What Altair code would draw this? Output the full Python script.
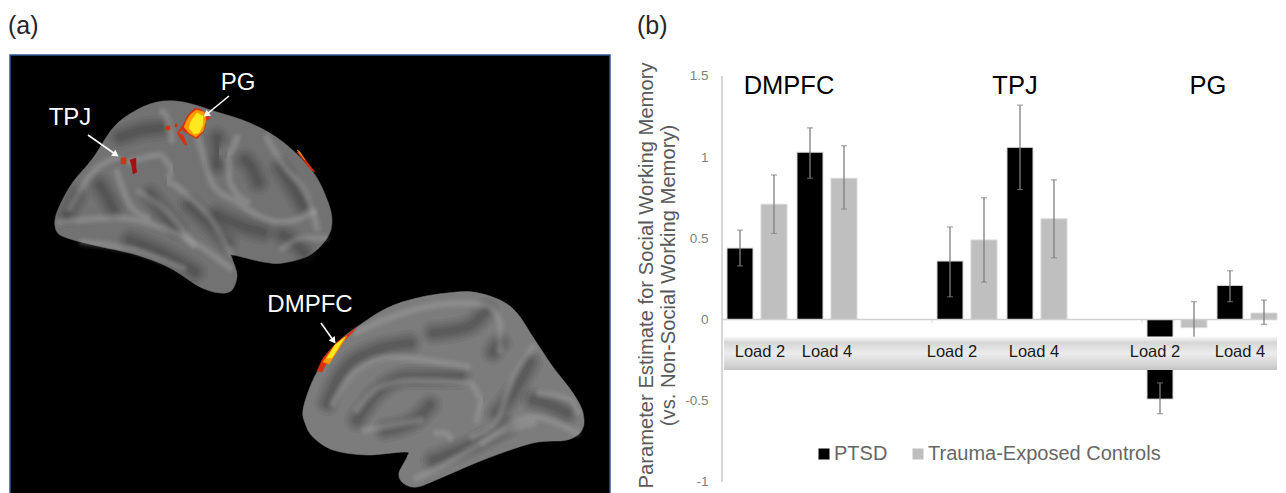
import altair as alt
import pandas as pd

# ---------- bar chart data ----------
slots = ["D2", "D4", "g1", "T2", "T4", "g2", "P2", "P4"]
bar_slots = ["D2", "D2", "D4", "D4", "T2", "T2", "T4", "T4", "P2", "P2", "P4", "P4"]
groups = ["PTSD", "Trauma-Exposed Controls"] * 6
values = [0.44, 0.71, 1.03, 0.87, 0.36, 0.49, 1.06, 0.62, -0.49, -0.05, 0.21, 0.04]
err_low = [0.33, 0.53, 0.87, 0.68, 0.14, 0.23, 0.80, 0.38, -0.58, -0.11, 0.11, -0.03]
err_high = [0.55, 0.89, 1.18, 1.07, 0.57, 0.75, 1.32, 0.86, -0.39, 0.11, 0.30, 0.12]
y_ticks = [-1, -0.5, 0, 0.5, 1, 1.5]
load_labels = ["Load 2", "Load 4", "Load 2", "Load 4", "Load 2", "Load 4"]
load_slots = ["D2", "D4", "T2", "T4", "P2", "P4"]
load_dx = [3, 0, -15, -3, -22, -7]
region_names = ["DMPFC", "TPJ", "PG"]
region_slots = ["D4", "T4", "P4"]
region_dx = [-38, -22, -39]

# ---------- brain panel data (picture coordinates) ----------
brain1 = [(55, 220), (60, 205), (73, 182), (93, 158), (113, 128), (133, 112), (157, 102), (183, 102), (217, 112), (250, 123), (283, 142), (313, 172), (328, 202), (332, 222), (327, 238), (310, 255), (283, 263), (263, 262), (233, 255), (232, 258), (237, 275), (232, 290), (220, 293), (200, 287), (170, 268), (137, 255), (93, 245), (67, 238), (57, 232)]
brain2 = [(303, 410), (310, 387), (320, 367), (337, 343), (357, 327), (387, 308), (417, 298), (447, 293), (473, 292), (500, 300), (517, 313), (533, 337), (553, 367), (573, 393), (583, 413), (582, 430), (567, 440), (533, 443), (483, 460), (443, 477), (417, 487), (403, 483), (399, 473), (407, 457), (405, 452), (367, 455), (333, 450), (313, 437), (305, 423)]

dark_lines = [
    [(245, 160), (253, 170), (258, 182)],
    [(217, 215), (240, 225), (263, 232)],
    [(120, 137), (143, 130), (160, 128)],
    [(100, 185), (107, 197), (113, 208)],
    [(150, 195), (163, 212), (177, 228)],
    [(190, 205), (208, 222), (227, 242)],
    [(283, 235), (297, 245), (304, 252)],
    [(217, 138), (219, 152), (217, 165)],
    [(280, 168), (292, 186), (303, 205)],
    [(77, 195), (72, 205), (67, 215)],
    [(130, 240), (160, 252), (195, 272)],
    [(327, 403), (337, 380), (367, 353), (410, 343)],
    [(433, 333), (467, 327), (487, 310)],
    [(493, 352), (496, 347), (500, 343)],
    [(357, 420), (377, 393), (410, 377), (460, 377)],
    [(530, 363), (513, 393), (497, 413)],
    [(533, 400), (550, 405), (567, 413)],
    [(507, 427), (467, 447), (433, 460)],
    [(385, 430), (415, 420), (430, 405)],
]
light_lines = [
    [(130, 162), (160, 155), (173, 168), (167, 182), (190, 198), (210, 218), (230, 252)],
    [(197, 135), (207, 168), (213, 185), (237, 202), (263, 218), (283, 222), (313, 212)],
    [(237, 138), (227, 155), (230, 182), (247, 202)],
    [(163, 112), (170, 128), (172, 140)],
    [(267, 138), (283, 165), (310, 202), (317, 228)],
    [(283, 248), (303, 238), (325, 238)],
    [(70, 208), (93, 172), (117, 158)],
    [(60, 222), (117, 218), (163, 228), (203, 248), (230, 268)],
    [(117, 172), (130, 205), (147, 218)],
    [(140, 192), (170, 215), (193, 245)],
    [(83, 242), (133, 250), (183, 268)],
    [(333, 403), (357, 370), (393, 357), (443, 363), (467, 367)],
    [(357, 410), (380, 387), (413, 380), (470, 383), (483, 400), (477, 420)],
    [(357, 332), (413, 310), (460, 303), (487, 306), (500, 323), (500, 350)],
    [(473, 437), (497, 420), (513, 377), (533, 347)],
    [(483, 443), (533, 417), (577, 433)],
    [(540, 393), (570, 400), (578, 412)],
    [(417, 478), (440, 467), (500, 433), (533, 423)],
    [(365, 430), (395, 425), (420, 420)],
    [(437, 433), (445, 433), (450, 438)],
]
hot_red = [
    [(195, 108), (202, 110), (210, 118), (205, 122), (206, 126), (203, 132), (197, 139), (190, 135), (182, 130), (178, 133), (183, 135), (187, 145), (185, 145), (180, 138), (177, 133), (183, 125), (188, 115)],
    [(297, 152), (300, 153), (315, 172), (311, 170)],
    [(317, 371), (323, 358), (337, 342), (347, 335), (357, 327), (353, 332), (343, 342), (333, 358), (326, 364), (322, 372)],
    [(121, 158), (126, 158), (126, 164), (121, 164)],
    [(166, 126), (170, 126), (170, 130), (166, 130)],
    [(175, 124), (177, 124), (177, 127), (175, 127)],
]
hot_dark = [
    [(130, 160), (136, 158), (136, 168), (137, 172), (133, 174), (132, 167)],
]
hot_orange = [
    [(196, 110), (204, 112), (206, 120), (203, 131), (196, 137), (189, 133), (184, 127), (187, 120), (190, 115)],
    [(323, 362), (335, 345), (347, 336), (338, 350), (329, 364)],
    [(297, 150), (300, 152), (305, 160)],
]
hot_yellow = [
    [(197, 113), (203, 116), (203, 125), (199, 133), (194, 134), (189, 128), (191, 121), (194, 117)],
    [(327, 358), (335, 345), (345, 337), (338, 348), (332, 358)],
]
panel_x = [10]; panel_x2 = [610]; panel_y = [55]; panel_y2 = [520]
panel_labels = ["(a)"]
callouts = ["PG", "TPJ", "DMPFC"]
callout_x = [238, 70, 310]
callout_y = [83, 118, 305]
arrow_x = [[229, 207], [88, 115], [321, 333]]
arrow_y = [[96, 114], [135, 154], [323, 340]]
arrow_angle = [232, 125, 144]

XD = alt.Scale(domain=[8, 620], nice=False, zero=False)
YD = alt.Scale(domain=[493, 8], nice=False, zero=False)
PX = alt.X("x:Q", scale=XD, axis=None)
PY = alt.Y("y:Q", scale=YD, axis=None)
PANEL_W, PANEL_H = 612, 485


def poly_df(polys):
    rows = []
    for i, p in enumerate(polys):
        for j, (a, b) in enumerate(p):
            rows.append({"id": i, "o": j, "x": a, "y": b})
    return pd.DataFrame(rows)


def filled(df, color, interp="linear-closed"):
    return alt.Chart(df).mark_line(
        fill=color, stroke=color, strokeWidth=0.5, interpolate=interp, clip=True
    ).encode(x=PX, y=PY, detail="id:N", order="o:O")


def strokes(df, color, width, op):
    return alt.Chart(df).mark_line(
        color=color, strokeWidth=width, opacity=op, interpolate="monotone", strokeCap="round", clip=True
    ).encode(x=PX, y=PY, detail="id:N", order="o:O")


ddf = poly_df(dark_lines)
ldf = poly_df(light_lines)

panel_df = pd.DataFrame({"x": panel_x, "x2": panel_x2, "y": panel_y, "y2": panel_y2})
panel = alt.Chart(panel_df).mark_rect(color="#000000", stroke="#2f5597", strokeWidth=1.5, clip=True).encode(
    x=PX, x2="x2:Q", y=PY, y2="y2:Q"
)
layers = [panel, filled(poly_df([brain1]), "#727272", "cardinal-closed"), filled(poly_df([brain2]), "#7c7c7c", "cardinal-closed")]
for w, o in [(26, 0.08), (20, 0.09), (15, 0.1), (10, 0.12), (6, 0.12)]:
    layers.append(strokes(ddf, "#303030", w, o))
for w, o in [(12, 0.05), (9, 0.06), (7, 0.07), (5, 0.07), (3, 0.07)]:
    layers.append(strokes(ldf, "#bdbdbd", w, o))
layers += [
    filled(poly_df(hot_dark), "#a5100f"),
    filled(poly_df(hot_red), "#d8300f"),
    filled(poly_df(hot_orange), "#ff9a00"),
    filled(poly_df(hot_yellow), "#ffe81e"),
]
arrow_rows = pd.DataFrame(
    [{"id": i, "o": j, "x": arrow_x[i][j], "y": arrow_y[i][j]} for i in range(3) for j in range(2)]
)
heads = pd.DataFrame({"x": [a[1] for a in arrow_x], "y": [a[1] for a in arrow_y], "a": arrow_angle})
layers.append(alt.Chart(arrow_rows).mark_line(color="#ffffff", strokeWidth=1.6).encode(x=PX, y=PY, detail="id:N", order="o:O"))
layers.append(alt.Chart(heads).mark_point(shape="triangle", filled=True, color="#ffffff", opacity=1, size=55).encode(
    x=PX, y=PY, angle=alt.Angle("a:Q", scale=None)))
text_df = pd.DataFrame({"x": callout_x, "y": callout_y, "t": callouts})
layers.append(alt.Chart(text_df).mark_text(font="Liberation Sans", fontSize=24, color="#ffffff").encode(x=PX, y=PY, text="t:N"))
layers.append(alt.Chart(pd.DataFrame({"x": [8], "y": [26], "t": panel_labels})).mark_text(
    font="Liberation Sans", fontSize=25, color="#262626", align="left").encode(x=PX, y=PY, text="t:N"))
left = alt.layer(*layers).properties(width=PANEL_W, height=PANEL_H)

# ---------- right panel ----------
Y_SCALE = alt.Scale(domain=[-1.068, 1.918], nice=False, zero=False)
Y_AX = alt.Axis(
    values=y_ticks, domain=False, ticks=False, grid=False, labelFont="Liberation Sans",
    labelFontSize=13.5, labelColor="#7f7f7f", labelPadding=14, labelExpr="toString(datum.value)",
    title=["Parameter Estimate for Social Working Memory", "(vs. Non-Social Working Memory)"],
    titleFont="Liberation Sans", titleFontSize=20.2, titleFontWeight="normal", titleColor="#595959",
    titlePadding=6, titleY=267,
)
PLOT_W = 555
X_ENC = alt.X("slot:N", scale=alt.Scale(domain=slots, range=[0, 560], paddingInner=0, paddingOuter=0), axis=None)
OFF = alt.XOffset("group:N", scale=alt.Scale(domain=["PTSD", "Trauma-Exposed Controls"], paddingInner=0.235, paddingOuter=0.147))
bars_df = pd.DataFrame({"slot": bar_slots, "group": groups, "value": values, "lo": err_low, "hi": err_high})


def Yf(f):
    return alt.Y(f, scale=Y_SCALE, axis=Y_AX)


zero = alt.Chart(pd.DataFrame({"v": [0]})).mark_rule(color="#d0d0d0", strokeWidth=1.5).encode(
    y=Yf("v:Q"), x=alt.value(0), x2=alt.value(PLOT_W))
tick_df = pd.DataFrame({"v": [0, 0, 0], "v2": [-0.02] * 3, "px": [0, 210, 420]})
xticks = alt.Chart(tick_df).mark_rule(color="#d0d0d0", strokeWidth=1).encode(
    x=alt.X("px:Q", scale=alt.Scale(domain=[0, 560], range=[0, 560]), axis=None),
    y=Yf("v:Q"), y2="v2:Q")
yaxis = alt.Chart(pd.DataFrame({"a": [-1], "b": [1.5]})).mark_rule(color="#bdbdbd", strokeWidth=1.2).encode(
    x=alt.value(0), y=Yf("a:Q"), y2="b:Q")
bars = alt.Chart(bars_df).mark_bar(stroke="#d9d9d9", strokeWidth=1).encode(
    x=X_ENC, xOffset=OFF,
    y=Yf("value:Q"), y2=alt.datum(0),
    color=alt.Color(
        "group:N",
        scale=alt.Scale(domain=["PTSD", "Trauma-Exposed Controls"], range=["#000000", "#bfbfbf"]),
        legend=alt.Legend(
            orient="none", legendX=806, legendY=436, direction="horizontal", title=None,
            symbolType="square", symbolSize=121, symbolStrokeWidth=0, labelFont="Liberation Sans",
            labelFontSize=20, labelColor="#666666", labelLimit=400, columnPadding=20, symbolOffset=0,
            labelOffset=0,
        ),
    ),
)
err_rule = alt.Chart(bars_df).mark_rule(color="#7f7f7f", strokeWidth=1.3).encode(
    x=X_ENC, xOffset=OFF, y=Yf("lo:Q"), y2="hi:Q")
err_lo = alt.Chart(bars_df).mark_tick(color="#7f7f7f", orient="horizontal", size=6, thickness=1.2).encode(
    x=X_ENC, xOffset=OFF, y=Yf("lo:Q"))
err_hi = alt.Chart(bars_df).mark_tick(color="#7f7f7f", orient="horizontal", size=6, thickness=1.2).encode(
    x=X_ENC, xOffset=OFF, y=Yf("hi:Q"))
band = alt.Chart(pd.DataFrame({"a": [-0.105], "b": [-0.31]})).mark_rect(
    color=alt.Gradient(
        gradient="linear", x1=0, x2=0, y1=0, y2=1,
        stops=[
            alt.GradientStop(color="#fafafa", offset=0),
            alt.GradientStop(color="#d6d6d6", offset=0.18),
            alt.GradientStop(color="#ececec", offset=0.5),
            alt.GradientStop(color="#d4d4d4", offset=0.85),
            alt.GradientStop(color="#c4c4c4", offset=1),
        ],
    )
).encode(y=Yf("a:Q"), y2="b:Q", x=alt.value(2), x2=alt.value(PLOT_W))
load_df = pd.DataFrame({"slot": load_slots, "t": load_labels, "v": [-0.2] * 6, "dx": load_dx})
load_layers = [
    alt.Chart(load_df[load_df.dx == d]).mark_text(font="Liberation Sans", fontSize=16.5, color="#1a1a1a", dx=d).encode(
        x=X_ENC, y=Yf("v:Q"), text="t:N")
    for d in load_dx
]
region_df = pd.DataFrame({"slot": region_slots, "t": region_names, "v": [1.435] * 3, "dx": region_dx})
region_layers = [
    alt.Chart(region_df[region_df.dx == d]).mark_text(font="Liberation Sans", fontSize=25.5, color="#000000", dx=d).encode(
        x=X_ENC, y=Yf("v:Q"), text="t:N")
    for d in region_dx
]
blabel = alt.Chart(pd.DataFrame({"v": [1.808], "t": ["(b)"]})).mark_text(
    font="Liberation Sans", fontSize=25, color="#262626", align="left").encode(
    x=alt.value(-85), y=Yf("v:Q"), text="t:N")

right = alt.layer(
    yaxis, bars, zero, xticks, err_rule, err_lo, err_hi, band, *load_layers, *region_layers, blabel
).resolve_scale(x="independent").properties(width=PLOT_W, height=PANEL_H)

chart = alt.hconcat(left, right, spacing=16).properties(padding=0).configure_view(strokeWidth=0)
chart.save("out.html", embed_options={"renderer": "svg", "actions": False})
